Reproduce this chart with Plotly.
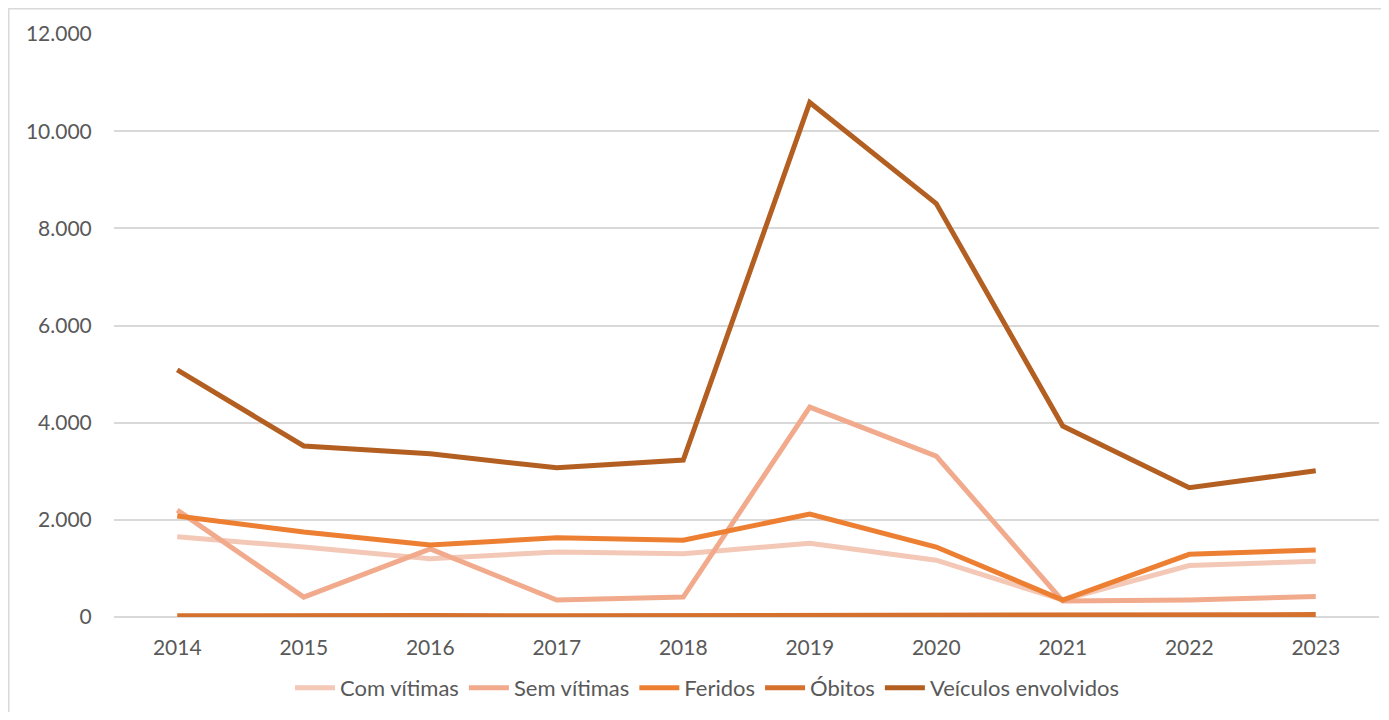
import plotly.graph_objects as go

years = ["2014", "2015", "2016", "2017", "2018", "2019", "2020", "2021", "2022", "2023"]
com_vitimas = [1650, 1440, 1200, 1340, 1300, 1520, 1170, 350, 1060, 1150]
sem_vitimas = [2200, 410, 1400, 350, 410, 4320, 3310, 330, 350, 420]
feridos = [2080, 1750, 1480, 1630, 1580, 2120, 1440, 350, 1290, 1380]
obitos = [25, 35, 30, 25, 25, 45, 40, 25, 30, 50]
veiculos = [5085, 3520, 3360, 3070, 3230, 10590, 8510, 3930, 2660, 3010]

series = [
    ("Com vítimas", com_vitimas, "#F4C8B6"),
    ("Sem vítimas", sem_vitimas, "#F1AA8C"),
    ("Feridos", feridos, "#ED7F33"),
    ("Óbitos", obitos, "#D5702D"),
    ("Veículos envolvidos", veiculos, "#B45F22"),
]

fig = go.Figure()
for name, vals, col in series:
    fig.add_trace(go.Scatter(
        x=years, y=vals, name=name, mode="lines",
        line=dict(color=col, width=5, shape="linear"),
    ))

# page has an 8px body margin; figure coords = page coords - 8
OFF = 8
W, H = 1373, 704
L, T = 114 - OFF, 34 - OFF
plot_right, plot_bottom = 1379 - OFF, 617 - OFF
R, B = W - plot_right, H - plot_bottom
pw = W - L - R
ph = H - T - B

FONT = "Lato, Open Sans, sans-serif"
fig.update_layout(
    width=W, height=H,
    margin=dict(l=L, r=R, t=T, b=B, pad=0),
    paper_bgcolor="white", plot_bgcolor="white",
    separators=",.",
    font=dict(family=FONT, size=21, color="#595959"),
    showlegend=True,
    legend=dict(
        orientation="h", x=(707 - 114) / pw, xanchor="center",
        y=-(688 - 617) / ph, yanchor="middle",
        font=dict(family=FONT, size=22, color="#595959"),
        itemwidth=40, tracegroupgap=0,
    ),
    xaxis=dict(
        type="category", range=[-0.5, 9.5],
        showgrid=False, zeroline=False, showline=False,
        ticks="outside", ticklen=12, tickcolor="rgba(0,0,0,0)",
        tickfont=dict(family=FONT, size=21, color="#595959"),
    ),
    yaxis=dict(
        range=[0, 12000], dtick=2000, tickformat=",d",
        showgrid=True, gridcolor="#D9D9D9", gridwidth=1.5,
        zeroline=True, zerolinecolor="#D9D9D9", zerolinewidth=1.5,
        showline=False,
        ticks="outside", ticklen=17, tickcolor="rgba(0,0,0,0)",
        tickfont=dict(family=FONT, size=21, color="#595959"),
    ),
    shapes=[dict(
        type="rect", xref="paper", yref="paper",
        x0=(0.75 - L) / pw, x1=(W + 20 - L) / pw,
        y0=-(H + 20 - T - ph) / ph, y1=1 + (T - 0.75) / ph,
        line=dict(color="#D9D9D9", width=1.5), fillcolor="rgba(0,0,0,0)",
        layer="below",
    )],
)

fig.write_html("out.html")
